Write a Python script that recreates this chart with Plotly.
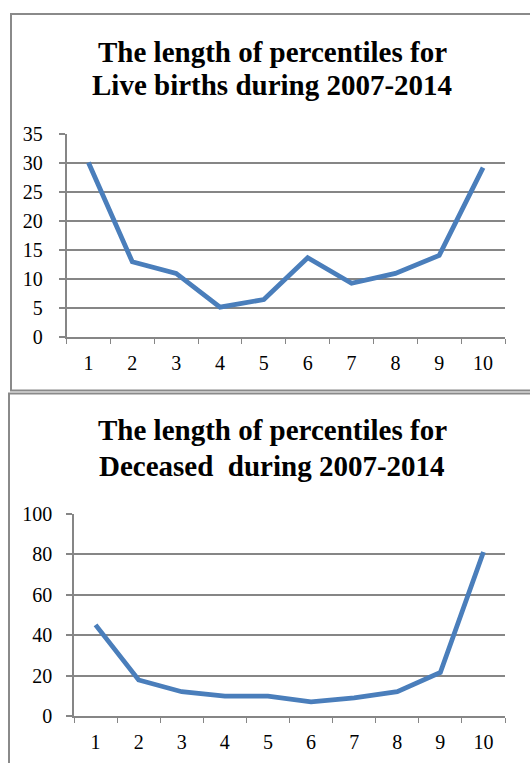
import plotly.graph_objects as go

# Percentile index along the x axis
percentiles = ["1", "2", "3", "4", "5", "6", "7", "8", "9", "10"]

# Length of each percentile
live_births = [30.1, 13.0, 11.0, 5.2, 6.5, 13.7, 9.3, 11.0, 14.1, 29.2]
deceased = [45.0, 17.8, 12.0, 9.8, 9.8, 7.0, 9.0, 12.0, 21.5, 81.0]

title_live = ["The length of percentiles for", "Live births during 2007-2014"]
title_dead = ["The length of percentiles for", "Deceased  during 2007-2014"]

W, H = 530, 763
LINE_BLUE = "#4A7EBB"
GRID = "#868686"
BORDER = "#8a8a8a"
FONT = "Liberation Serif, Times New Roman, serif"


def px_x(p):
    return p / W


def px_y(p):
    return 1 - p / H


fig = go.Figure()

fig.add_trace(go.Scatter(x=percentiles, y=live_births, mode="lines",
                         line=dict(color=LINE_BLUE, width=4.8),
                         xaxis="x", yaxis="y", showlegend=False))
fig.add_trace(go.Scatter(x=percentiles, y=deceased, mode="lines",
                         line=dict(color=LINE_BLUE, width=4.8),
                         xaxis="x2", yaxis="y2", showlegend=False))

tick_font = dict(family=FONT, size=20, color="#000000")

common_x = dict(type="category", categoryorder="array", categoryarray=percentiles,
                range=[-0.5, 9.5], tickson="boundaries", ticks="outside",
                ticklen=5, tickcolor=GRID, tickwidth=1.4, showline=True,
                linecolor=GRID, linewidth=1.6, showgrid=False, zeroline=False,
                tickfont=tick_font, ticklabelstandoff=7, fixedrange=True,
                automargin=False)
common_y = dict(ticks="outside", ticklen=6, tickcolor=GRID, tickwidth=1.6,
                showline=True, linecolor=GRID, linewidth=1.6, showgrid=True,
                gridcolor=GRID, gridwidth=1.6, zeroline=False,
                tickfont=tick_font, ticklabelstandoff=12, fixedrange=True,
                automargin=False)

fig.update_layout(
    width=W, height=H,
    margin=dict(l=0, r=0, t=0, b=0, autoexpand=False),
    paper_bgcolor="white", plot_bgcolor="white",
    xaxis=dict(common_x, domain=[px_x(66.5), px_x(505)], anchor="y"),
    yaxis=dict(common_y, domain=[px_y(337.3), px_y(134)], anchor="x",
               range=[0, 35], dtick=5, tick0=0),
    xaxis2=dict(common_x, domain=[px_x(74), px_x(505)], anchor="y2"),
    yaxis2=dict(common_y, domain=[px_y(716), px_y(513.5)], anchor="x2",
                range=[0, 100], dtick=20, tick0=0, ticklabelstandoff=10),
)

# Chart frames
fig.add_shape(type="rect", xref="paper", yref="paper",
              x0=px_x(11), x1=px_x(540), y0=px_y(390.5), y1=px_y(14),
              line=dict(color=BORDER, width=2), fillcolor="rgba(0,0,0,0)")
fig.add_shape(type="rect", xref="paper", yref="paper",
              x0=px_x(9), x1=px_x(540), y0=px_y(780), y1=px_y(393.5),
              line=dict(color=BORDER, width=2), fillcolor="rgba(0,0,0,0)")

# Two-line titles, one annotation per line for tight line spacing
title_font = dict(family=FONT, size=29, color="#000000")
for text, yc in zip(title_live, [52, 85]):
    fig.add_annotation(text="<b>%s</b>" % text, xref="paper", yref="paper",
                       x=px_x(272), y=px_y(yc), xanchor="center", yanchor="middle",
                       showarrow=False, font=title_font)
for text, yc in zip(title_dead, [430, 466]):
    fig.add_annotation(text="<b>%s</b>" % text, xref="paper", yref="paper",
                       x=px_x(272), y=px_y(yc), xanchor="center", yanchor="middle",
                       showarrow=False, font=title_font)

fig.write_html("out.html")
